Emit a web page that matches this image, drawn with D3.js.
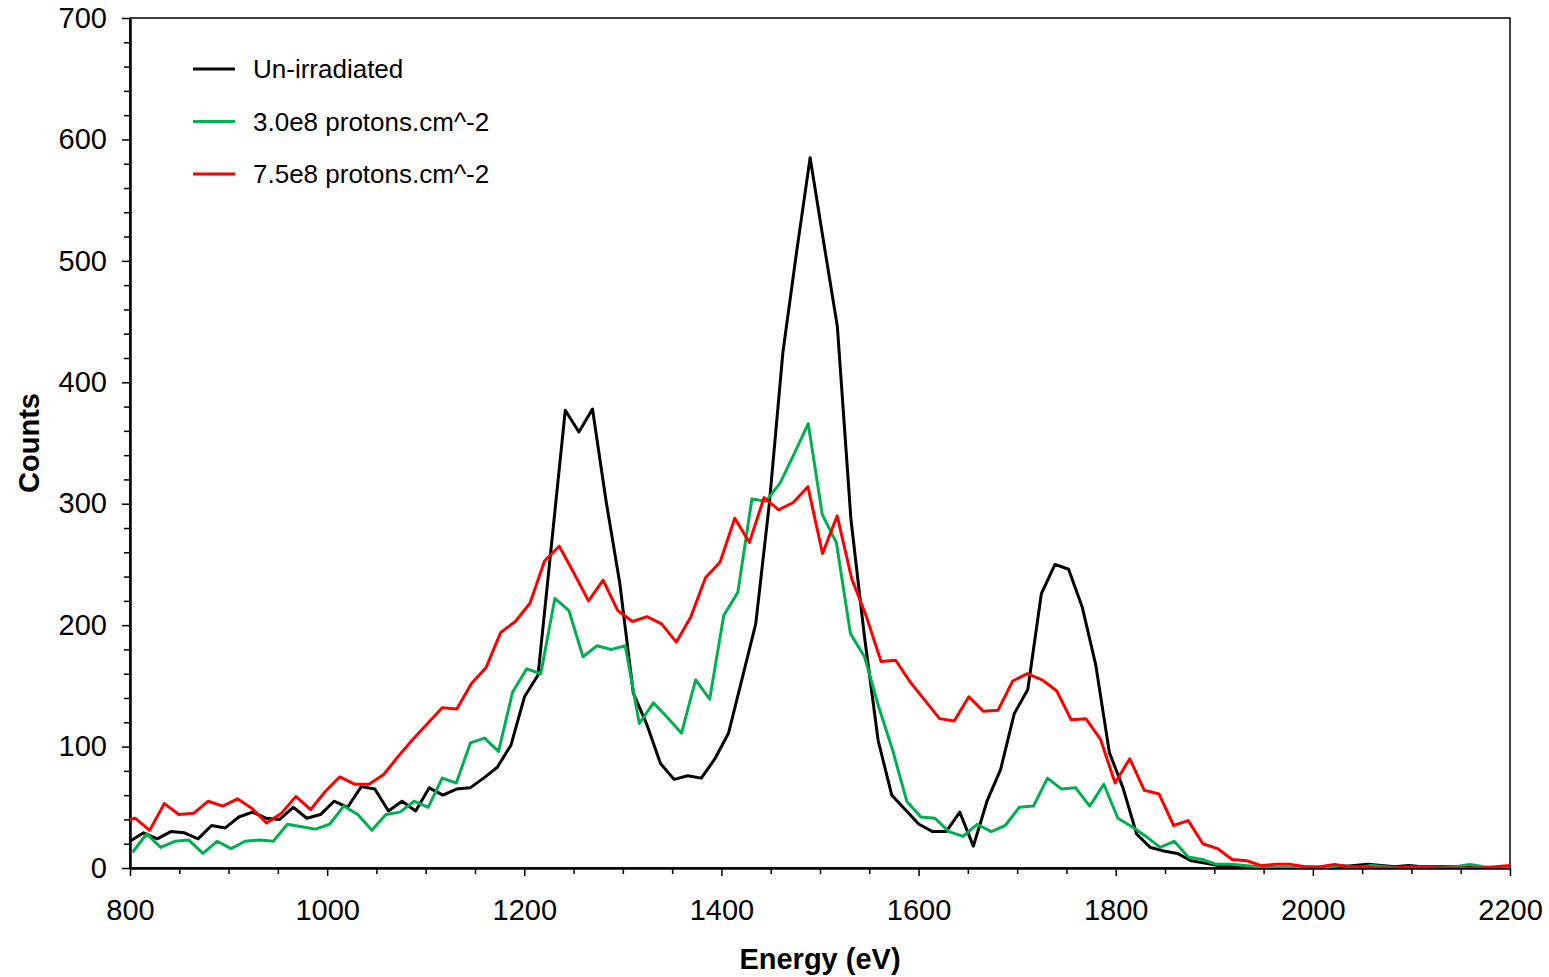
<!DOCTYPE html>
<html>
<head>
  <meta charset="utf-8">
  <title>Spectra vs proton fluence</title>
  <style>
    body { margin: 0; background: #fff; }
    svg text { font-family: "Liberation Sans", Arial, sans-serif; fill: #000; }
    .axis path, .axis line { stroke: #000; }
  </style>
  <script src="https://d3js.org/d3.v7.min.js"></script>
</head>
<body>
  <div id="chart"></div>
  <script>
    // channel energy calibration of each spectrum (eV): first channel and channel width
    const blackStart = 800, blackStep = 13.8;
    const greenStart = 802.6, greenStep = 14.28;
    const redStart = 790.26, redStep = 14.84;

    // counts per channel
    const unirradiated = [
      22, 29, 24, 30, 29, 24, 35, 33, 42, 46,
      41, 40, 50, 41, 44, 55, 50, 67, 65, 47,
      55, 47, 66, 60, 65, 66, 74, 83, 101, 141,
      159, 268, 377, 359, 378, 302, 235, 144, 118, 86,
      73, 76, 74, 90, 111, 156, 201, 300, 425, 507,
      585, 515, 446, 287, 190, 105, 60, 48, 36, 30,
      30, 46, 18, 55, 81, 127, 147, 226, 250, 246,
      215, 167, 95, 66, 28, 17, 14, 12, 6, 4,
      2, 1, 1, 0, 0, 0, 0, 0, 0, 1,
      2, 3, 2, 1, 2, 1, 1, 1, 1, 0,
      0, 1, 1
    ];
    const dose30 = [
      13, 28, 17, 22, 23, 12, 22, 16, 22, 23,
      22, 36, 34, 32, 36, 51, 44, 31, 44, 46,
      55, 50, 74, 70, 103, 107, 96, 145, 164, 160,
      222, 212, 174, 183, 180, 183, 119, 136, 124, 111,
      155, 139, 208, 227, 304, 302, 317, 341, 366, 291,
      268, 193, 174, 133, 97, 55, 42, 41, 30, 26,
      36, 30, 35, 50, 51, 74, 65, 66, 51, 69,
      41, 34, 26, 17, 22, 9, 7, 3, 3, 2,
      1, 0, 0, 0, 0, 1, 2, 0, 2, 1,
      0, 0, 0, 0, 1, 3, 1, 0, 1
    ];
    const dose75 = [
      38,
      41, 31, 53, 44, 45, 55, 51, 57, 49, 37,
      45, 59, 48, 63, 75, 69, 69, 77, 92, 106,
      119, 132, 131, 152, 165, 194, 203, 218, 253, 265,
      243, 220, 237, 212, 203, 207, 201, 186, 207, 239,
      252, 288, 268, 305, 295, 301, 314, 259, 290, 238,
      207, 170, 171, 153, 138, 123, 121, 141, 129, 130,
      154, 160, 155, 146, 122, 123, 106, 70, 90, 64,
      61, 35, 39, 20, 16, 7, 6, 2, 3, 3,
      1, 1, 3, 1, 1, 0, 0, 1, 1, 0,
      0, 0, 0, 1, 2, 0
    ];

    const seriesNames = ['Un-irradiated', '3.0e8 protons.cm^-2', '7.5e8 protons.cm^-2'];
    const seriesColors = ['#000000', '#00b050', '#ff0000'];

    const xTicks = [800, 1000, 1200, 1400, 1600, 1800, 2000, 2200];
    const yTicks = [0, 100, 200, 300, 400, 500, 600, 700];

    const W = 1549, H = 977;
    const plot = { left: 130, top: 18, right: 1510, bottom: 868 };

    const x = d3.scaleLinear().domain([800, 2200]).range([plot.left, plot.right]);
    const y = d3.scaleLinear().domain([0, 700]).range([plot.bottom, plot.top]);

    const toPoints = (vals, start, step) => vals.map((v, k) => ({ e: start + step * k, v }));
    const series = [
      toPoints(unirradiated, blackStart, blackStep),
      toPoints(dose30, greenStart, greenStep),
      toPoints(dose75, redStart, redStep)
    ];

    const svg = d3.select('#chart').append('svg')
      .attr('width', W)
      .attr('height', H);

    svg.append('defs').append('clipPath').attr('id', 'plotclip')
      .append('rect')
        .attr('x', plot.left)
        .attr('y', plot.top)
        .attr('width', plot.right - plot.left)
        .attr('height', plot.bottom - plot.top);

    // frame
    svg.append('rect')
      .attr('x', plot.left)
      .attr('y', plot.top)
      .attr('width', plot.right - plot.left)
      .attr('height', plot.bottom - plot.top)
      .attr('fill', 'none')
      .attr('stroke', '#000')
      .attr('stroke-width', 1.5);

    // minor ticks
    const xMinor = d3.range(800, 2201, 50).filter(d => d % 200 !== 0);
    const yMinor = d3.range(0, 701, 20).filter(d => d % 100 !== 0);

    svg.append('g')
      .attr('class', 'axis')
      .attr('transform', `translate(0,${plot.bottom})`)
      .call(d3.axisBottom(x).tickValues(xMinor).tickSize(6).tickSizeOuter(0).tickFormat(''))
      .call(g => g.select('.domain').remove())
      .selectAll('line').attr('stroke-width', 1.5);

    svg.append('g')
      .attr('class', 'axis')
      .attr('transform', `translate(${plot.left},0)`)
      .call(d3.axisLeft(y).tickValues(yMinor).tickSize(6).tickSizeOuter(0).tickFormat(''))
      .call(g => g.select('.domain').remove())
      .selectAll('line').attr('stroke-width', 1.5);

    // major ticks + labels
    const xAxis = svg.append('g')
      .attr('class', 'axis')
      .attr('transform', `translate(0,${plot.bottom})`)
      .call(d3.axisBottom(x).tickValues(xTicks).tickFormat(d3.format('d'))
        .tickSize(8).tickSizeOuter(0).tickPadding(23));
    xAxis.select('.domain').attr('stroke-width', 2.5);
    xAxis.selectAll('line').attr('stroke-width', 1.5);
    xAxis.selectAll('text').style('font-size', '29px');

    const yAxis = svg.append('g')
      .attr('class', 'axis')
      .attr('transform', `translate(${plot.left},0)`)
      .call(d3.axisLeft(y).tickValues(yTicks).tickFormat(d3.format('d'))
        .tickSize(8).tickSizeOuter(0).tickPadding(15));
    yAxis.select('.domain').attr('stroke-width', 2.5);
    yAxis.selectAll('line').attr('stroke-width', 1.5);
    yAxis.selectAll('text').style('font-size', '29px');

    // data lines
    const line = d3.line()
      .x(d => x(d.e))
      .y(d => y(d.v));

    svg.append('g')
      .attr('clip-path', 'url(#plotclip)')
      .selectAll('path')
      .data(series)
      .join('path')
        .attr('d', line)
        .attr('fill', 'none')
        .attr('stroke', (d, i) => seriesColors[i])
        .attr('stroke-width', 3)
        .attr('stroke-linejoin', 'round');

    // legend
    const legend = svg.append('g')
      .selectAll('g')
      .data(seriesNames)
      .join('g')
        .attr('transform', (d, i) => `translate(193,${69 + i * 52.5})`);

    legend.append('line')
      .attr('x1', 0)
      .attr('x2', 42)
      .attr('stroke', (d, i) => seriesColors[i])
      .attr('stroke-width', 3);

    legend.append('text')
      .attr('x', 60)
      .attr('dy', '0.35em')
      .style('font-size', '26px')
      .text(d => d);

    // axis titles
    svg.append('text')
      .attr('x', (plot.left + plot.right) / 2)
      .attr('y', 969)
      .attr('text-anchor', 'middle')
      .style('font-size', '29px')
      .style('font-weight', 'bold')
      .text('Energy (eV)');

    svg.append('text')
      .attr('transform', `translate(39,${(plot.top + plot.bottom) / 2}) rotate(-90)`)
      .attr('text-anchor', 'middle')
      .style('font-size', '29px')
      .style('font-weight', 'bold')
      .text('Counts');
  </script>
</body>
</html>
